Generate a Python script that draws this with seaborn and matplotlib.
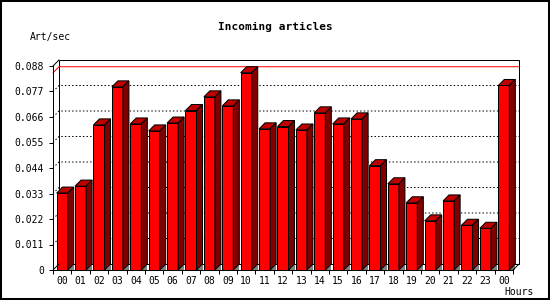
import numpy as np
import matplotlib
matplotlib.use("Agg")
import matplotlib.pyplot as plt
import matplotlib.transforms as mtransforms
from matplotlib.patches import Polygon, Rectangle
import seaborn as sns

# hourly incoming article rate (art/sec)
hours = ["00", "01", "02", "03", "04", "05", "06", "07", "08", "09", "10", "11",
         "12", "13", "14", "15", "16", "17", "18", "19", "20", "21", "22", "23", "00"]
rates = [0.0332, 0.0362, 0.0626, 0.0790, 0.0630, 0.0600, 0.0634, 0.0688, 0.0747,
         0.0708, 0.0851, 0.0609, 0.0619, 0.0604, 0.0678, 0.0630, 0.0652, 0.0450,
         0.0372, 0.0290, 0.0212, 0.0298, 0.0193, 0.0180, 0.0796]
ytick_vals = [0, 0.011, 0.022, 0.033, 0.044, 0.055, 0.066, 0.077, 0.088]
ytick_labels = ["0", "0.011", "0.022", "0.033", "0.044", "0.055", "0.066", "0.077", "0.088"]

sns.set_style("white")
plt.rcParams["font.family"] = ["DejaVu Sans Mono", "DejaVu Sans"]
plt.rcParams["text.color"] = "black"

W, H = 550, 300
D = 6  # 3d depth in pixels
LW = 0.72  # 1 px

fig = plt.figure(figsize=(W / 100, H / 100), dpi=100)
ax = fig.add_axes([53 / W, 30 / H, 460 / W, 204 / H])
ax.patch.set_alpha(0)

sns.barplot(x=np.arange(len(rates)), y=rates, color="#ff0000", saturation=1,
            width=0.6, edgecolor="black", linewidth=LW, ax=ax, zorder=3)
bars = list(ax.patches)
n = len(rates)
ax.set_xlim(-0.5, n - 0.5)
ax.set_ylim(0, ytick_vals[-1])

ident = mtransforms.IdentityTransform()


def px(x, y, off=0):
    p = ax.transData.transform((x, y))
    return (p[0] + off, p[1] + off)


def line(pts, **kw):
    xs, ys = zip(*pts)
    ax.plot(xs, ys, transform=ident, clip_on=False, **kw)


left, right, top = -0.5, n - 0.5, ytick_vals[-1]

# back wall
ax.add_patch(Polygon([px(left, 0, D), px(left, top, D), px(right, top, D), px(right, 0, D)],
                     closed=True, fill=False, edgecolor="black", lw=LW,
                     transform=ident, clip_on=False, zorder=1))
for v in ytick_vals[1:-1]:
    line([px(left, v), px(left, v, D), px(right, v, D)], color="black", lw=LW,
         linestyle=(0, (1.44, 2.16)), zorder=1)

# max line
m = max(rates)
line([px(left, m), px(left, m, D), px(right, m, D)], color="#ff0000", lw=LW, zorder=1.5)

# corner edges
line([px(left, top), px(left, top, D)], color="black", lw=LW, zorder=4)
line([px(left, 0), px(left, 0, D)], color="black", lw=LW, zorder=4)
line([px(right, 0), px(right, 0, D)], color="black", lw=LW, zorder=4)

# 3d faces of the bars
for b in bars:
    x0 = b.get_x()
    x1 = x0 + b.get_width()
    h = b.get_height()
    X1, Y0 = px(x1, 0)
    # floor shadow under the side face
    ax.add_patch(Polygon([(X1, Y0), (X1 + D, Y0), (X1 + D, Y0 + D)], closed=True,
                         facecolor="#808080", edgecolor="none",
                         transform=ident, clip_on=False, zorder=2.9))
    for pts, c in [
        ([px(x0, h), px(x1, h), px(x1, h, D), px(x0, h, D)], "#c00000"),
        ([px(x1, 0), px(x1, h), px(x1, h, D), px(x1, 0, D)], "#800000"),
    ]:
        ax.add_patch(Polygon(pts, closed=True, facecolor=c, edgecolor="black", lw=LW,
                             transform=ident, clip_on=False, zorder=3))

sns.despine(ax=ax)
for s in ["left", "bottom"]:
    ax.spines[s].set_color("black")
    ax.spines[s].set_linewidth(LW)
    ax.spines[s].set_zorder(4)

ax.set_yticks(ytick_vals, ytick_labels)
ax.tick_params(axis="y", left=True, direction="out", length=2.9, width=LW,
               pad=3.6, labelsize=7, color="black", labelcolor="black")
ax.set_xticks(range(n), hours)
ax.set_xticks(np.arange(left, n, 1), minor=True)
ax.tick_params(axis="x", which="major", length=0, pad=4, labelsize=7, labelcolor="black")
ax.tick_params(axis="x", which="minor", bottom=True, direction="out", length=2.9,
               width=LW, color="black")
ax.set_xlabel("")
ax.set_ylabel("")

fig.text(0.5, 1 - 27 / H, "Incoming articles", ha="center", va="center",
         fontsize=8, fontweight="bold", color="black")
fig.text(30 / W, 1 - 37 / H, "Art/sec", ha="left", va="center", fontsize=7, color="black")
fig.text(504 / W, 1 - 292 / H, "Hours", ha="left", va="center", fontsize=7, color="black")

fig.patches.append(Rectangle((0, 0), 1, 1, transform=fig.transFigure, fill=False,
                             edgecolor="black", lw=2.9))

fig.savefig("out.png", dpi=100)
